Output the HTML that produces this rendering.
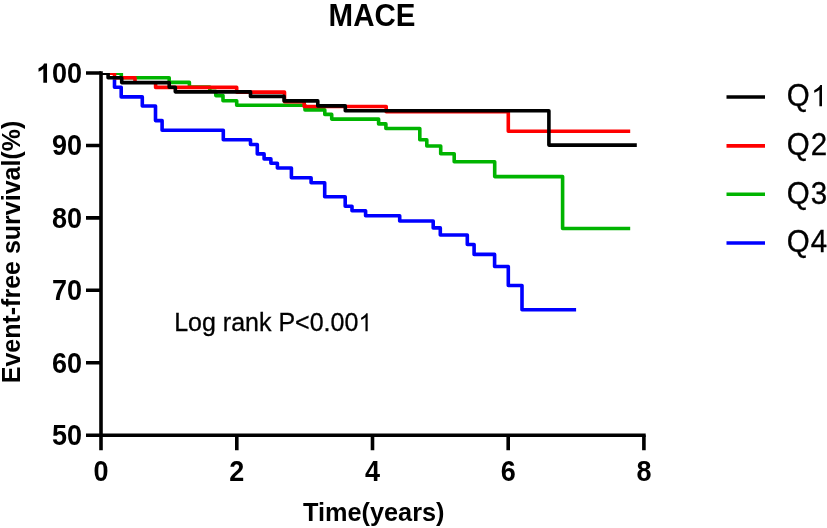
<!DOCTYPE html>
<html>
<head>
<meta charset="utf-8">
<title>MACE</title>
<style>
html,body{margin:0;padding:0;background:#fff;}
body{width:827px;height:528px;overflow:hidden;font-family:"Liberation Sans",sans-serif;}
svg{display:block;will-change:transform;}
text{font-family:"Liberation Sans",sans-serif;fill:#000;stroke:#000;stroke-width:0.3;}
.b{font-weight:bold;stroke-width:0;}
.curve{fill:none;stroke-width:3.6;stroke-linejoin:round;stroke-linecap:butt;}
.ax{stroke:#000;stroke-width:3.6;fill:none;stroke-linecap:butt;}
</style>
</head>
<body>
<svg width="827" height="528" viewBox="0 0 827 528">
<rect x="0" y="0" width="827" height="528" fill="#ffffff"/>
<defs>
<clipPath id="plot"><rect x="101" y="73.1" width="700" height="400"/></clipPath></defs>

<!-- title -->
<text class="b" transform="translate(372,26.3) scale(1,1.035)" font-size="29.5" text-anchor="middle">MACE</text>
<!-- survival curves: Q4, Q3, Q2, Q1 -->
<g clip-path="url(#plot)">
<path class="curve" stroke="#0000ff" d="M114.5,79.2 V87.3 H121.2 V96.9 H142.3 V106 H155.5 V120.6 H162.1 V130.2 H223.3 V139.8 H250.5 V144.5 H257.3 V153.9 H264.1 V158.9 H270.9 V163.3 H277.4 V168 H291.4 V177.8 H311.1 V182.7 H324.7 V196.7 H345.2 V206.2 H352 V210.8 H365.6 V215.8 H399.7 V221 H433.2 V227.9 H440.3 V235 H467.3 V244.5 H474.1 V254.4 H494.6 V266.5 H508.3 V285.5 H522 V309.7 H576.1"/>
<path class="curve" stroke="#00b400" d="M113.5,73.2 H121.3 V77.7 H169.2 V82.4 H189.4 V87 H209.8 V91.3 H215.8 V95.6 H223 V100.8 H236.7 V105.2 H305 V109.9 H324.8 V114.4 H331.7 V119.1 H378.6 V123.9 H385.9 V128.5 H419.8 V139.8 H426.8 V146 H440.7 V153.8 H454.2 V161.8 H494.7 V176.6 H562.6 V228.5 H630.2"/>
<path class="curve" stroke="#ff0000" d="M107,73.2 H114.5 V77.7 H135 V81.5 M155.6,83.5 V87.4 H236.7 V92.1 H284.5 V101.7 H304.2 V106.5 H386.2 V111.8 H508.3 V131.2 H630.2"/>
<path class="curve" stroke="#000000" d="M101,73.2 H108.1 V77.7 H121.7 V82.6 H169.2 V87.3 H175.3 V91.85 H250.5 V96.4 H284.1 V100.9 H317.8 V105.9 H345.3 V110.8 H548.9 V145.1 H636.8"/>
</g>
<!-- axes -->
<path class="ax" d="M101,71.25 V450.3"/>
<path class="ax" d="M86,435.2 H645.7"/>
<path class="ax" d="M86,73.05 H101 M86,145.5 H101 M86,217.9 H101 M86,290.3 H101 M86,362.8 H101"/>
<path class="ax" d="M236.8,435.2 V450.3 M372.5,435.2 V450.3 M508.2,435.2 V450.3 M643.9,435.2 V450.3"/>
<!-- y tick labels -->
<path fill="#000" d="M806,0 H525 V1059 Q371,915 162,846 V1101 Q272,1137 401,1237.5 Q530,1338 578,1472 H806 Z" transform="translate(36.4,82.8) scale(0.013184,-0.013184)"/>
<text class="b" transform="translate(82.0,82.8) scale(1,1.06)" font-size="27" text-anchor="end">00</text>
<text class="b" transform="translate(82.0,155.3) scale(1,1.06)" font-size="27" text-anchor="end">90</text>
<text class="b" transform="translate(82.0,227.7) scale(1,1.06)" font-size="27" text-anchor="end">80</text>
<text class="b" transform="translate(82.0,300.1) scale(1,1.06)" font-size="27" text-anchor="end">70</text>
<text class="b" transform="translate(82.0,372.6) scale(1,1.06)" font-size="27" text-anchor="end">60</text>
<text class="b" transform="translate(82.0,445.0) scale(1,1.06)" font-size="27" text-anchor="end">50</text>
<!-- x tick labels -->
<text class="b" transform="translate(101,481.3) scale(1,1.06)" font-size="27" text-anchor="middle">0</text>
<text class="b" transform="translate(236.8,481.3) scale(1,1.06)" font-size="27" text-anchor="middle">2</text>
<text class="b" transform="translate(372.5,481.3) scale(1,1.06)" font-size="27" text-anchor="middle">4</text>
<text class="b" transform="translate(508.2,481.3) scale(1,1.06)" font-size="27" text-anchor="middle">6</text>
<text class="b" transform="translate(643.9,481.3) scale(1,1.06)" font-size="27" text-anchor="middle">8</text>
<!-- axis titles -->
<text class="b" transform="translate(373.7,521.3) scale(1,1.035)" font-size="25.3" text-anchor="middle">Time(years)</text>
<text class="b" transform="translate(19.5,252) rotate(-90) scale(1,1.035)" font-size="25" text-anchor="middle">Event-free survival(%)</text>
<!-- annotation -->
<text transform="translate(174.2,331.2) scale(1,1.035)" font-size="25" text-anchor="start">Log rank P&lt;0.00</text>
<path fill="#000" d="M763,0 H583 V1147 Q518,1085 412.5,1023 Q307,961 223,930 V1104 Q374,1175 487,1276 Q600,1377 647,1472 H763 Z" transform="translate(358.36,331.2) scale(0.012207,-0.012207)"/>
<!-- legend -->
<g stroke-width="3.6" fill="none">
<path stroke="#000000" d="M726.5,97 H765"/>
<path stroke="#ff0000" d="M726.5,145.9 H765"/>
<path stroke="#00b400" d="M726.5,194.3 H765"/>
<path stroke="#0000ff" d="M726.5,243 H765"/>
</g>
<path fill="#000" d="M763,0 H583 V1147 Q518,1085 412.5,1023 Q307,961 223,930 V1104 Q374,1175 487,1276 Q600,1377 647,1472 H763 Z" transform="translate(811.0,106.2) scale(0.014404,-0.014404)"/>
<text transform="translate(786.8,106.2) scale(1,1.05)" font-size="29.5" text-anchor="start">Q</text>
<text transform="translate(786.8,154.9) scale(1,1.05)" font-size="29.5" text-anchor="start">Q<tspan dx="1">2</tspan></text>
<text transform="translate(786.8,203.7) scale(1,1.05)" font-size="29.5" text-anchor="start">Q<tspan dx="1">3</tspan></text>
<text transform="translate(786.8,252.3) scale(1,1.05)" font-size="29.5" text-anchor="start">Q<tspan dx="1">4</tspan></text>
</svg>
</body>
</html>
